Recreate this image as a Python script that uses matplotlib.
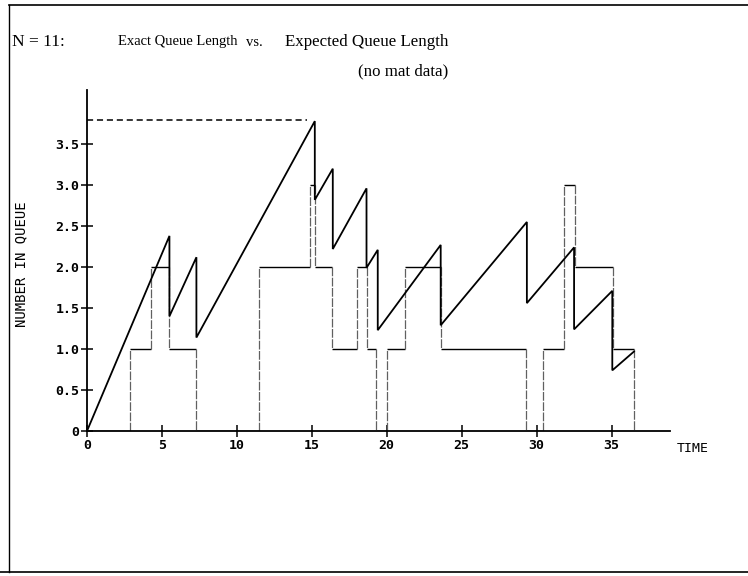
import matplotlib
matplotlib.use("Agg")
import matplotlib.pyplot as plt
from matplotlib.lines import Line2D

# ---------------- data ----------------
# Expected queue length (sawtooth)
t_expected = [0, 5.5, 5.5, 7.3, 7.3, 15.2, 15.2, 16.4, 16.4, 18.65, 18.65, 19.4, 19.4,
              23.6, 23.6, 29.35, 29.35, 32.5, 32.5, 35.05, 35.05, 36.5]
v_expected = [0, 2.38, 1.40, 2.12, 1.14, 3.78, 2.82, 3.20, 2.22, 2.96, 1.99, 2.21, 1.23,
              2.27, 1.29, 2.55, 1.56, 2.24, 1.24, 1.71, 0.74, 0.97]

# Exact queue length (step function, value holds from each time to the next)
t_exact = [0, 2.9, 4.25, 5.5, 7.3, 11.45, 14.9, 15.2, 16.35, 18.0, 18.65, 19.3, 20.0,
           21.2, 23.6, 29.3, 30.45, 31.85, 32.55, 35.1, 36.5]
v_exact = [0, 1, 2, 1, 0, 2, 3, 2, 1, 2, 1, 0, 1, 2, 1, 0, 1, 3, 2, 1, 0]

x_ticks = [0, 5, 10, 15, 20, 25, 30, 35]
x_tick_labels = ["0", "5", "10", "15", "20", "25", "30", "35"]
y_ticks = [0, 0.5, 1.0, 1.5, 2.0, 2.5, 3.0, 3.5]
y_tick_labels = ["0", "0.5", "1.0", "1.5", "2.0", "2.5", "3.0", "3.5"]

title_n = "N = 11:"
title_a = "Exact Queue Length"
title_vs = "vs."
title_b = "Expected Queue Length"
subtitle = "(no mat data)"
x_label = "TIME"
y_label = "NUMBER IN QUEUE"

# ---------------- figure ----------------
W, H = 748, 576
fig = plt.figure(figsize=(W / 100, H / 100), dpi=100)

def fx(px):
    return px / W

def fy(py):
    return 1 - py / H

x0_px, x1_px = 87, 670
y0_px, y1_px = 431, 90
ax = fig.add_axes([fx(x0_px), fy(y0_px), (x1_px - x0_px) / W, (y0_px - y1_px) / H])
ax.set_xlim(0, 38.9)
ax.set_ylim(0, 4.16)
for s in ("top", "right"):
    ax.spines[s].set_visible(False)
for s in ("left", "bottom"):
    ax.spines[s].set_linewidth(1.3)
    ax.spines[s].set_color("black")

mono = ["DejaVu Sans Mono"]
ax.set_xticks(x_ticks)
ax.set_xticklabels(x_tick_labels, family=mono, fontweight="bold", fontsize=9.5)
ax.set_yticks(y_ticks)
ax.set_yticklabels(y_tick_labels, family=mono, fontweight="bold", fontsize=9.5)
ax.tick_params(direction="inout", length=8, width=1.1, pad=1.5, colors="black")

# exact queue: horizontals solid, verticals thin grey like the print
ax.hlines(v_exact[:-1], t_exact[:-1], t_exact[1:], colors="black", linewidth=1.0)
ax.vlines(t_exact[1:], v_exact[:-1], v_exact[1:], colors="#606060",
          linewidth=0.9, linestyles=(0, (7, 1.2)))

# expected queue sawtooth
ax.plot(t_expected, v_expected, color="black", linewidth=1.3, solid_joinstyle="miter")

# dashed line at maximum expected value
vmax = max(v_expected)
tmax = t_expected[v_expected.index(vmax)]
ax.hlines(vmax + 0.02, 0, tmax - 0.5, colors="black", linewidth=1.1, linestyles=(0, (4, 2.5)))

ax.text(40.4, -0.21, x_label, family=mono, fontsize=9.5, ha="center", va="center",
        clip_on=False)
fig.text(fx(21), fy(264), y_label, family=mono, fontsize=10, rotation=90,
         ha="center", va="center")

serif = ["Liberation Serif", "DejaVu Serif"]
fig.text(fx(12), fy(42), title_n, family=serif, fontsize=12.5, ha="left", va="center")
fig.text(fx(118), fy(42), title_a, family=serif, fontsize=10.5, ha="left", va="center")
fig.text(fx(246), fy(42), title_vs, family=serif, fontsize=10.5, ha="left", va="center")
fig.text(fx(285), fy(42), title_b, family=serif, fontsize=12.2, ha="left", va="center")
fig.text(fx(358), fy(71), subtitle, family=serif, fontsize=12.2, ha="left", va="center")

# page frame
fig.add_artist(Line2D([fx(9), fx(9)], [fy(5), fy(572)], color="black", linewidth=1.0))
fig.add_artist(Line2D([fx(9), 1], [fy(5), fy(5)], color="black", linewidth=1.2))
fig.add_artist(Line2D([0, 1], [fy(572), fy(572)], color="black", linewidth=1.2))

fig.savefig("out.png", dpi=100)
